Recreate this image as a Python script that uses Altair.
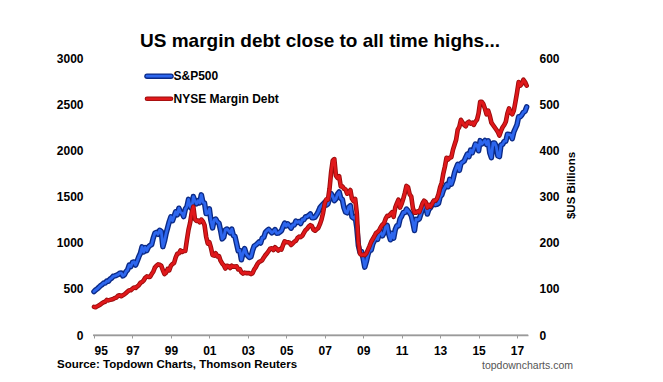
import altair as alt
import pandas as pd

FONT = "Liberation Sans"

title_text = "US margin debt close to all time highs..."
source_text = "Source: Topdown Charts, Thomson Reuters"
site_text = "topdowncharts.com"
right_axis_title = "$US Billions"
series_names = ["S&P500", "NYSE Margin Debt"]

tick_years = list(range(1995, 2018, 2))
left_ticks = [0, 500, 1000, 1500, 2000, 2500, 3000]
right_ticks = [0, 100, 200, 300, 400, 500, 600]

# monthly S&P 500 level, Jan 1995 - Jul 2017 (left axis)
sp500 = [
    470, 487, 500, 515, 533, 545, 562, 562, 584, 582, 605, 616,
    636, 640, 646, 654, 669, 671, 640, 652, 687, 705, 757, 741,
    786, 791, 757, 801, 848, 885, 954, 899, 947, 915, 955, 970,
    980, 1049, 1102, 1112, 1091, 1134, 1121, 957, 1017, 1099, 1164, 1229,
    1280, 1238, 1286, 1335, 1302, 1373, 1329, 1320, 1283, 1363, 1389, 1469,
    1394, 1366, 1499, 1452, 1421, 1455, 1431, 1518, 1437, 1429, 1315, 1320,
    1366, 1240, 1160, 1249, 1256, 1224, 1211, 1134, 1041, 1060, 1139, 1148,
    1130, 1107, 1147, 1077, 1067, 990, 912, 916, 815, 886, 936, 880,
    856, 841, 848, 917, 964, 975, 990, 1008, 996, 1051, 1058, 1112,
    1131, 1145, 1126, 1107, 1121, 1141, 1102, 1104, 1115, 1130, 1174, 1212,
    1181, 1204, 1181, 1157, 1192, 1191, 1234, 1220, 1229, 1207, 1249, 1248,
    1280, 1281, 1295, 1311, 1270, 1270, 1277, 1304, 1336, 1378, 1401, 1418,
    1438, 1407, 1421, 1482, 1531, 1503, 1455, 1474, 1527, 1549, 1481, 1468,
    1379, 1331, 1323, 1386, 1400, 1280, 1267, 1283, 1165, 969, 896, 903,
    826, 735, 798, 873, 919, 919, 987, 1021, 1057, 1036, 1096, 1115,
    1074, 1104, 1169, 1187, 1089, 1031, 1102, 1049, 1141, 1183, 1181, 1258,
    1286, 1327, 1326, 1364, 1345, 1321, 1292, 1219, 1131, 1253, 1247, 1258,
    1312, 1366, 1408, 1398, 1310, 1362, 1379, 1407, 1441, 1412, 1416, 1426,
    1498, 1515, 1569, 1598, 1631, 1606, 1686, 1633, 1682, 1757, 1806, 1848,
    1783, 1859, 1872, 1884, 1924, 1960, 1931, 2003, 1972, 2018, 2068, 2059,
    1995, 2105, 2068, 2086, 2107, 2063, 2104, 1972, 1920, 2079, 2080, 2044,
    1940, 1932, 2060, 2065, 2097, 2099, 2174, 2171, 2168, 2126, 2199, 2239,
    2279, 2364, 2363, 2384, 2412, 2423, 2470,
]

# monthly NYSE margin debt, $US billions (right axis)
margin_debt = [
    61, 60, 62, 64, 66, 69, 71, 72, 76, 75, 76, 77,
    78, 80, 81, 85, 86, 84, 86, 88, 91, 94, 97, 97,
    100, 103, 102, 105, 108, 113, 115, 118, 124, 127, 126, 126,
    132, 137, 146, 150, 153, 152, 150, 140, 132, 135, 143, 140,
    150, 154, 156, 168, 176, 177, 183, 180, 182, 182, 206, 228,
    243, 265, 278, 251, 247, 248, 244, 250, 246, 238, 213, 198,
    201, 189, 173, 172, 177, 170, 171, 161, 155, 151, 144, 150,
    149, 145, 150, 148, 148, 149, 142, 143, 136, 133, 135, 134,
    134, 134, 132, 134, 142, 147, 154, 158, 160, 162, 168, 173,
    177, 182, 187, 188, 184, 190, 187, 183, 186, 185, 195, 203,
    201, 201, 200, 195, 198, 202, 204, 210, 213, 212, 215, 221,
    227, 230, 235, 238, 236, 228, 226, 229, 232, 240, 250, 265,
    285, 294, 293, 317, 353, 378, 381, 345, 340, 344, 322, 322,
    317, 315, 306, 309, 314, 295, 290, 295, 264, 201, 176, 173,
    174, 173, 177, 185, 193, 202, 208, 214, 221, 223, 227, 234,
    239, 242, 252, 258, 258, 262, 266, 256, 276, 285, 293, 276,
    284, 295, 308, 323, 320, 305, 300, 275, 265, 265, 268, 266,
    275, 285, 291, 288, 276, 282, 278, 284, 291, 291, 295, 305,
    320, 330, 350, 365, 384, 380, 384, 385, 401, 412, 423, 445,
    451, 466, 460, 455, 452, 460, 462, 458, 460, 455, 462, 466,
    480, 505, 505, 500, 490, 478, 486, 475, 460, 455, 450, 445,
    440, 432, 442, 450, 455, 462, 480, 491, 482, 478, 486, 505,
    525, 548, 540, 544, 553, 548, 540,
]

months = [1995 + i / 12 for i in range(len(sp500))]
df = pd.DataFrame({"t": months, "sp": sp500, "md": margin_debt})

BLUE_DARK, BLUE = "#0b2a86", "#2d66ee"
RED_DARK, RED = "#980c0c", "#e0181b"
GREY = "#9a9a9a"

x_scale = alt.Scale(domain=[1994.95, 2017.57], nice=False, zero=False)
x_enc = alt.X(
    "t:Q",
    scale=x_scale,
    axis=alt.Axis(
        values=tick_years,
        labelExpr="substring(toString(datum.value), 2, 4)",
        title=None, grid=False, domain=True, ticks=True,
        domainColor=GREY, domainWidth=1.5, tickColor=GREY, tickSize=3,
        tickWidth=1, labelFont=FONT, labelFontSize=12, labelFontWeight="bold",
        labelColor="#000", labelPadding=7,
    ),
)

sp_scale = alt.Scale(domain=[0, 3000], nice=False, zero=True)
md_scale = alt.Scale(domain=[0, 600], nice=False, zero=True)

left_axis = alt.Axis(
    orient="left", values=left_ticks, format="d", title=None, grid=False, domain=False, ticks=False,
    labelFont=FONT, labelFontSize=12, labelFontWeight="bold", labelColor="#000",
    labelPadding=10,
)
right_axis = alt.Axis(
    orient="right", values=right_ticks, format="d", grid=False, domain=False, ticks=False,
    labelFont=FONT, labelFontSize=12, labelFontWeight="bold", labelColor="#000",
    labelPadding=11, title=right_axis_title, titleFont=FONT, titleFontSize=11.5,
    titleFontWeight="bold", titleColor="#000", titleAngle=270,
    titleX=43, titleY=127, titleAlign="center", titleBaseline="middle",
)

base = alt.Chart(df)
sp_y = alt.Y("sp:Q", scale=sp_scale, axis=left_axis)
md_y = alt.Y("md:Q", scale=md_scale, axis=right_axis)

# grey baseline along the bottom of the plot (drawn as a thin rectangle)
baseline = alt.Chart(pd.DataFrame({"v": [0]})).mark_rect(color=GREY).encode(
    x=alt.value(0), x2=alt.value(435),
    y=alt.value(276.5), y2=alt.value(278))

sp_layer = alt.layer(
    base.mark_line(color=BLUE_DARK, strokeWidth=5.5, strokeJoin="round", strokeCap="round").encode(
        x=x_enc, y=sp_y),
    base.mark_line(color=BLUE, strokeWidth=2.8, strokeJoin="round", strokeCap="round").encode(
        x=x_enc, y=sp_y),
)
md_layer = alt.layer(
    base.mark_line(color=RED_DARK, strokeWidth=4.6, strokeJoin="round", strokeCap="round").encode(
        x=x_enc, y=md_y),
    base.mark_line(color=RED, strokeWidth=2.8, strokeJoin="round", strokeCap="round").encode(
        x=x_enc, y=md_y),
)

# manual legend
leg_rows = [
    (series_names[0], BLUE_DARK, BLUE, 18.2, 5.5, 2.8),
    (series_names[1], RED_DARK, RED, 40.8, 4.6, 2.8),
]
legend_layers = []
for name, dark, light, yy, w_out, w_in in leg_rows:
    d = pd.DataFrame({"label": [name]})
    legend_layers.append(alt.Chart(d).mark_rule(color=dark, strokeWidth=w_out, strokeCap="round").encode(
        x=alt.value(54), x2=alt.value(78), y=alt.value(yy)))
    legend_layers.append(alt.Chart(d).mark_rule(color=light, strokeWidth=w_in, strokeCap="round").encode(
        x=alt.value(54), x2=alt.value(78), y=alt.value(yy)))
    legend_layers.append(alt.Chart(d).mark_text(
        align="left", baseline="middle", font=FONT, fontSize=12, fontWeight="bold", color="#000").encode(
        x=alt.value(80.5), y=alt.value(yy), text="label:N"))

title_layer = alt.Chart(pd.DataFrame({"label": [title_text]})).mark_text(
    align="center", baseline="alphabetic", font=FONT, fontSize=19, fontWeight="bold", color="#000"
).encode(x=alt.value(227), y=alt.value(-11), text="label:N")

source_layer = alt.Chart(pd.DataFrame({"label": [source_text]})).mark_text(
    align="left", baseline="middle", font=FONT, fontSize=11.5, fontWeight="bold", color="#000"
).encode(x=alt.value(-36), y=alt.value(306.5), text="label:N")

site_layer = alt.Chart(pd.DataFrame({"label": [site_text]})).mark_text(
    align="left", baseline="middle", font=FONT, fontSize=10.5, color="#555"
).encode(x=alt.value(389), y=alt.value(308), text="label:N")

chart = alt.layer(
    baseline, sp_layer, md_layer, *legend_layers, title_layer, source_layer, site_layer
).resolve_scale(y="independent").properties(
    width=435, height=277, autosize="none",
    padding={"left": 85, "top": 50, "right": 120, "bottom": 45},
).configure_view(stroke=None)

chart.save("out.html", embed_options={"renderer": "svg", "actions": False})
